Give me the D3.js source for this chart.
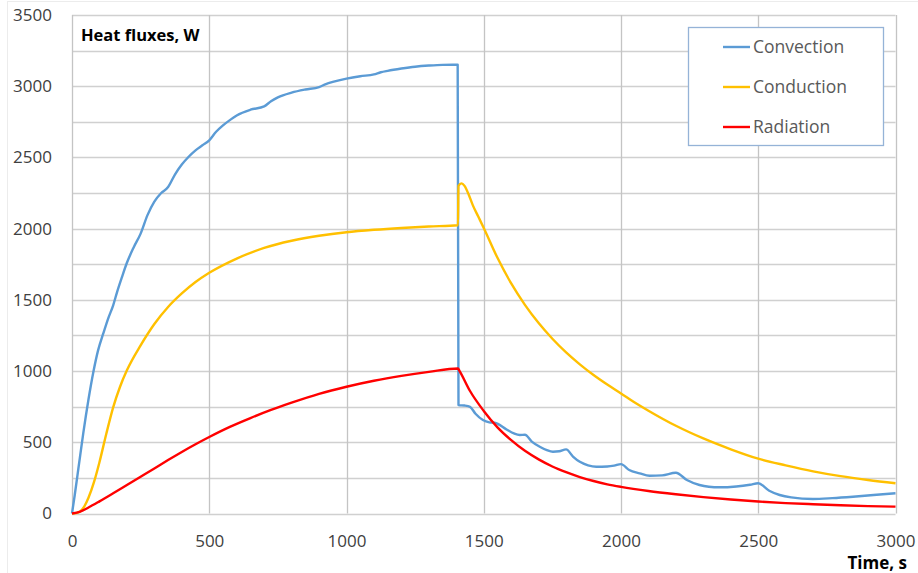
<!DOCTYPE html>
<html>
<head>
<meta charset="utf-8">
<script src="https://cdn.jsdelivr.net/npm/d3@7"></script>
<style>
  body { margin: 0; background: #fff; }
  svg text { font-family: "Open Sans", "Noto Sans", sans-serif; }
</style>
</head>
<body>
<script>
// values (time in s, flux in W)
var convTime = [0,10,20,30,41,60,78,95,114,132,150,165,182,199,225,250,275,300,325,350,375,400,425,450,475,500,525,550,575,600,650,700,725,750,800,850,900,925,950,1000,1050,1100,1125,1150,1200,1250,1300,1350,1405,1408,1430,1450,1470,1497,1520,1540,1583,1610,1631,1650,1675,1704,1730,1752,1775,1800,1825,1850,1880,1910,1950,1975,2000,2030,2068,2104,2150,2200,2240,2286,2320,2359,2420,2470,2500,2540,2578,2620,2699,2770,2845,2920,3000];
var convection = [0,130,270,410,562,800,995,1145,1264,1370,1462,1560,1660,1755,1870,1965,2095,2190,2250,2292,2380,2450,2505,2550,2585,2620,2680,2725,2762,2795,2835,2858,2895,2922,2955,2977,2994,3015,3030,3053,3070,3083,3098,3108,3124,3137,3145,3150,3151,761,758,749,700,656,640,637,590,562,551,553,505,469,445,434,437,450,400,363,338,328,330,336,347,305,282,265,268,286,235,200,188,184,190,202,212,160,130,113,102,108,118,130,142];

var condTime = [0,15,30,45,60,80,100,125,150,175,200,250,300,350,400,450,500,600,700,800,900,1000,1100,1200,1300,1406,1408,1419,1430,1445,1460,1480,1500,1550,1600,1650,1700,1750,1800,1850,1900,1950,2000,2050,2100,2200,2300,2400,2500,2600,2700,2800,2900,3000];
var conduction = [0,3,15,50,110,220,360,560,745,890,1005,1180,1330,1450,1545,1625,1690,1790,1865,1915,1950,1975,1992,2005,2015,2024,2300,2318,2300,2240,2165,2085,2005,1795,1615,1465,1337,1227,1131,1047,972,905,843,780,722,616,527,451,385,338,296,262,235,212];

var radTime = [0,30,60,100,150,200,250,300,350,400,450,500,575,650,725,800,900,1000,1100,1200,1300,1406,1412,1450,1500,1550,1600,1650,1700,1750,1800,1850,1900,1950,2000,2100,2200,2300,2400,2500,2600,2700,2800,2900,3000];
var radiation = [0,14,42,85,142,200,258,316,375,432,486,537,608,670,727,778,840,890,932,966,994,1018,1000,860,720,605,515,440,380,330,290,256,228,205,187,158,135,115,98,84,73,65,58,52,48];

var seriesNames = ["Convection", "Conduction", "Radiation"];
var seriesColors = ["#5b9bd5", "#ffc000", "#ff0000"];

var xTicks = [0,500,1000,1500,2000,2500,3000];
var yTicks = [0,500,1000,1500,2000,2500,3000,3500];
var yGrid = d3.range(0, 3501, 250);

var W = 918, H = 573;
var plotL = 72, plotR = 895.5, plotT = 15, plotB = 513.5;

var svg = d3.select("body").append("svg")
  .attr("width", W)
  .attr("height", H);

// faint outer chart border
svg.append("rect")
  .attr("x", 7.5).attr("y", 1.5)
  .attr("width", 960).attr("height", 620)
  .attr("fill", "none")
  .attr("stroke", "#ececec");

var x = d3.scaleLinear().domain([0, 3000]).range([plotL, plotR]);
var y = d3.scaleLinear().domain([0, 3500]).range([plotB, plotT]);

// grid
svg.append("g")
  .selectAll("line")
  .data(yGrid)
  .join("line")
    .attr("x1", plotL).attr("x2", plotR)
    .attr("y1", function(d) {return Math.round(y(d)) + 0.5})
    .attr("y2", function(d) {return Math.round(y(d)) + 0.5})
    .attr("stroke", "#d0d0d0")
    .attr("stroke-width", 1.3);

svg.append("g")
  .selectAll("line")
  .data(xTicks)
  .join("line")
    .attr("y1", plotT).attr("y2", plotB)
    .attr("x1", function(d) {return Math.round(x(d)) + 0.5})
    .attr("x2", function(d) {return Math.round(x(d)) + 0.5})
    .attr("stroke", "#c4c4c4")
    .attr("stroke-width", 1.3);

// axes (labels only)
var yAxis = svg.append("g")
  .attr("transform", "translate(" + plotL + ",0)")
  .call(d3.axisLeft(y).tickValues(yTicks).tickFormat(d3.format("d")).tickSize(0).tickPadding(20));
var xAxis = svg.append("g")
  .attr("transform", "translate(0," + plotB + ")")
  .call(d3.axisBottom(x).tickValues(xTicks).tickFormat(d3.format("d")).tickSize(0).tickPadding(21));

[yAxis, xAxis].forEach(function(a) {
  a.select(".domain").remove();
  a.selectAll("text")
    .attr("font-size", 17)
    .attr("fill", "#404040")
    .style("font-family", "'Open Sans', sans-serif");
});

// series
var series = [
  {name: seriesNames[0], color: seriesColors[0], t: convTime, v: convection},
  {name: seriesNames[1], color: seriesColors[1], t: condTime, v: conduction},
  {name: seriesNames[2], color: seriesColors[2], t: radTime, v: radiation}
];

var line = d3.line()
  .x(function(d) {return x(d[0])})
  .y(function(d) {return y(d[1])})
  .curve(d3.curveMonotoneX);

svg.append("g")
  .selectAll("path")
  .data(series)
  .join("path")
    .attr("d", function(s) {return line(d3.zip(s.t, s.v))})
    .attr("fill", "none")
    .attr("stroke", function(s) {return s.color})
    .attr("stroke-width", 2.4)
    .attr("stroke-linejoin", "round");

// titles
svg.append("text")
  .attr("x", 81).attr("y", 41)
  .attr("font-size", 16.5)
  .attr("font-weight", "bold")
  .attr("fill", "#000")
  .text("Heat fluxes, W");

svg.append("text")
  .attr("x", 907).attr("y", 569)
  .attr("text-anchor", "end")
  .attr("font-size", 17)
  .attr("font-weight", "bold")
  .attr("fill", "#000")
  .text("Time, s");

// legend
var legend = svg.append("g");
legend.append("rect")
  .attr("x", 688.5).attr("y", 27.5)
  .attr("width", 195).attr("height", 118)
  .attr("fill", "#fff")
  .attr("stroke", "#95b3d7")
  .attr("stroke-width", 1.3);

var items = legend.selectAll("g.item")
  .data(series)
  .join("g")
    .attr("class", "item")
    .attr("transform", function(d, i) {return "translate(0," + (47 + i * 40) + ")"});

items.append("line")
  .attr("x1", 723).attr("x2", 750)
  .attr("stroke", function(d) {return d.color})
  .attr("stroke-width", 2.4);

items.append("text")
  .attr("x", 753)
  .attr("dy", "0.35em")
  .attr("font-size", 17.5)
  .attr("fill", "#595959")
  .text(function(d) {return d.name});
</script>
</body>
</html>
